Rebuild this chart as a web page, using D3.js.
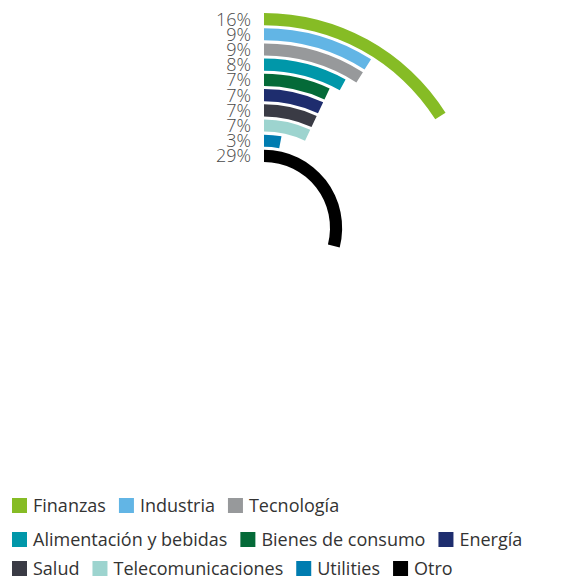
<!DOCTYPE html>
<html>
<head>
<meta charset="utf-8">
<script src="https://cdn.jsdelivr.net/npm/d3@7"></script>
<style>
  html, body { margin: 0; padding: 0; background: #fff; }
  svg { display: block; font-family: "Open Sans", sans-serif; }
</style>
</head>
<body>
<svg id="chart" width="562" height="578"></svg>
<script>
// Sector weights (%), outermost ring first
const categories = ["Finanzas", "Industria", "Tecnología", "Alimentación y bebidas",
  "Bienes de consumo", "Energía", "Salud", "Telecomunicaciones", "Utilities", "Otro"];
const values = [16, 9, 9, 8, 7, 7, 7, 7, 3, 29];
const valueLabels = ["16%", "9%", "9%", "8%", "7%", "7%", "7%", "7%", "3%", "29%"];
const colors = ["#86BC25", "#62B5E5", "#97999B", "#0097A9", "#046A38",
  "#1E2D6E", "#3A3B45", "#9DD4CF", "#007CB0", "#000000"];
// Legend rows
const legendRows = [[0, 1, 2], [3, 4, 5], [6, 7, 8, 9]];

const svg = d3.select("#chart");
const cx = 264, cy = 228;

// Angle: 100% = full turn, starting at 12 o'clock, clockwise
const angle = d3.scaleLinear().domain([0, 100]).range([0, 2 * Math.PI]);
// Ring radii: first category on the outside
const radius = d3.scaleBand().domain(categories).range([215, 66]).paddingInner(0.2).paddingOuter(0);
const bw = radius.bandwidth();

const g = svg.append("g").attr("transform", `translate(${cx},${cy})`);

const arc = d3.arc()
  .startAngle(0)
  .endAngle(d => angle(d.v))
  .innerRadius(d => radius(d.c))
  .outerRadius(d => radius(d.c) + bw);

const data = categories.map((c, i) => ({ c, v: values[i], col: colors[i], lab: valueLabels[i] }));

g.selectAll("path.ring").data(data).join("path")
  .attr("class", "ring")
  .attr("d", arc)
  .attr("fill", d => d.col);

g.selectAll("text.val").data(data).join("text")
  .attr("class", "val")
  .attr("x", -13)
  .attr("y", d => -(radius(d.c) + bw / 2) + 6.5)
  .attr("text-anchor", "end")
  .attr("font-size", 18)
  .attr("font-weight", 300)
  .attr("fill", "#4a4a4a")
  .text(d => d.lab);

// Legend
const legend = svg.append("g");
const rowY = [498, 532, 561];
legendRows.forEach((row, ri) => {
  let x = 12;
  row.forEach(i => {
    const item = legend.append("g").attr("transform", `translate(${x},${rowY[ri]})`);
    item.append("rect").attr("width", 15).attr("height", 15).attr("fill", colors[i]);
    const t = item.append("text")
      .attr("x", 21).attr("y", 14)
      .attr("font-size", 18)
      .attr("fill", "#333")
      .text(categories[i]);
    x += 21 + t.node().getComputedTextLength() + 13;
  });
});
</script>
</body>
</html>
